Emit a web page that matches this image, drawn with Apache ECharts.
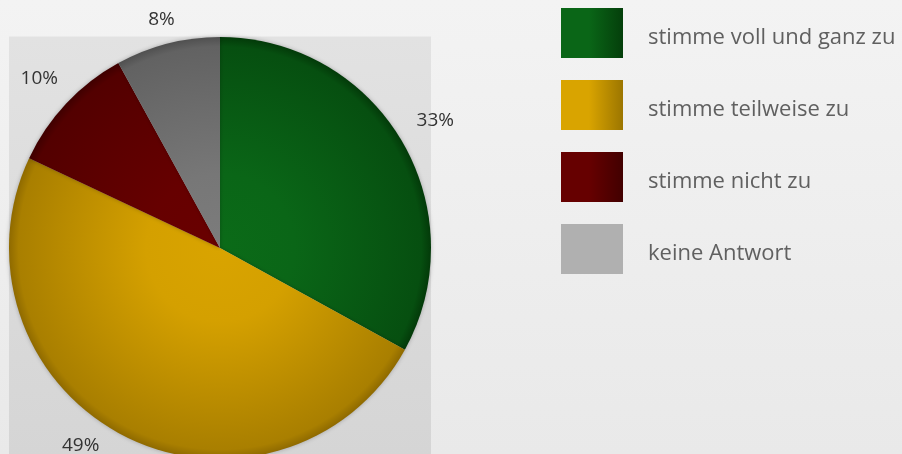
<!DOCTYPE html>
<html>
<head>
<meta charset="utf-8">
<script src="https://cdn.jsdelivr.net/npm/echarts@6/dist/echarts.min.js"></script>
<style>
  html, body { margin: 0; padding: 0; }
  body { background: linear-gradient(#f3f3f3, #e9e9e9); }
  #chart { width: 902px; height: 454px; }
</style>
</head>
<body>
<div id="chart"></div>
<script>
// Survey answers (percent)
const categories = ['stimme voll und ganz zu', 'stimme teilweise zu', 'stimme nicht zu', 'keine Antwort'];
const values = [33, 49, 10, 8];

// Slice shading: [centre, mid, edge, rim]
const sliceShades = [
  ['#0b6b18', '#0a6617', '#064f10', '#033a09'],
  ['#d9a400', '#d4a000', '#a97f00', '#8f6a00'],
  ['#690000', '#660000', '#530000', '#3f0000'],
  ['#7c7c7c', '#777777', '#626262', '#505050']
];
// Legend swatch shading: [left, right]
const swatchShades = [
  ['#0a6617', '#043f0b'],
  ['#d9a400', '#9c7600'],
  ['#660000', '#420000'],
  ['#b0b0b0', '#b0b0b0']
];

const W = 902, H = 454;
const CX = 220, CY = 248, R = 211;
const LABEL_GAP = 13;      // space between pie rim and label
const LABEL_HALF_H = 7;    // half glyph height of the percentage labels
const LABEL_W_FACTOR = 0.7;

const chart = echarts.init(document.getElementById('chart'));

function sliceColor(i) {
  const s = sliceShades[i];
  return new echarts.graphic.RadialGradient(CX, CY, R, [
    { offset: 0, color: s[0] },
    { offset: 0.35, color: s[1] },
    { offset: 0.955, color: s[2] },
    { offset: 1, color: s[3] }
  ], true);
}

function swatchColor(i) {
  const s = swatchShades[i];
  return new echarts.graphic.LinearGradient(0, 0, 1, 0, [
    { offset: 0, color: s[0] },
    { offset: 0.45, color: s[0] },
    { offset: 1, color: s[1] }
  ]);
}

const total = values.reduce((a, b) => a + b, 0);
// mid angle of each slice, clockwise from 12 o'clock
const midAngles = values.map((v, i) => {
  const before = values.slice(0, i).reduce((a, b) => a + b, 0);
  return (before + v / 2) / total * Math.PI * 2;
});

const legendFont = { fontFamily: '"Open Sans", sans-serif', fontSize: 22, color: '#606060' };

chart.setOption({
  backgroundColor: 'transparent',
  animation: false,
  graphic: [{
    type: 'rect',
    z: -10,
    silent: true,
    shape: { x: CX - R, y: CY - R - 0.5, width: 2 * R, height: H - (CY - R) + 1 },
    style: {
      fill: new echarts.graphic.LinearGradient(0, 0, 0, 1, [
        { offset: 0, color: '#e2e2e2' },
        { offset: 1, color: '#d5d5d5' }
      ])
    }
  }],
  legend: {
    orient: 'vertical',
    left: 556,
    top: 3,
    itemWidth: 62,
    itemHeight: 50,
    itemGap: 22,
    selectedMode: false,
    icon: 'rect',
    formatter: '{t|{name}}',
    textStyle: Object.assign({}, legendFont, {
      padding: [9, 0, 0, 20],
      rich: { t: Object.assign({}, legendFont) }
    }),
    data: categories.map((name, i) => ({ name, itemStyle: { color: swatchColor(i) } }))
  },
  series: [{
    type: 'pie',
    center: [CX, CY],
    radius: R,
    startAngle: 90,
    clockwise: true,
    silent: true,
    itemStyle: {
      borderWidth: 0,
      shadowBlur: 4,
      shadowColor: 'rgba(0,0,0,0.25)'
    },
    label: {
      show: true,
      position: 'inside',
      formatter: '{c}%',
      fontFamily: '"Open Sans", sans-serif',
      fontSize: 19,
      color: '#333333'
    },
    labelLine: { show: false },
    labelLayout: function (p) {
      const a = midAngles[p.dataIndex];
      const sx = Math.sin(a), cy = -Math.cos(a);
      // push the label out from the rim, further where it lies sideways
      const extent = Math.abs(sx) * p.labelRect.width * LABEL_W_FACTOR + Math.abs(cy) * LABEL_HALF_H;
      const r = R + LABEL_GAP + extent;
      let dx = sx * r;
      let dy = cy * r;
      // keep labels inside the canvas by sliding them along their circle
      const maxDy = H - 8 - CY;
      if (dy > maxDy) {
        dy = maxDy;
        dx = Math.sign(dx) * Math.sqrt(r * r - dy * dy);
      }
      return { x: CX + dx, y: CY + dy, align: 'center', verticalAlign: 'middle' };
    },
    data: categories.map((name, i) => ({
      name,
      value: values[i],
      itemStyle: { color: sliceColor(i) }
    }))
  }]
});
</script>
</body>
</html>
